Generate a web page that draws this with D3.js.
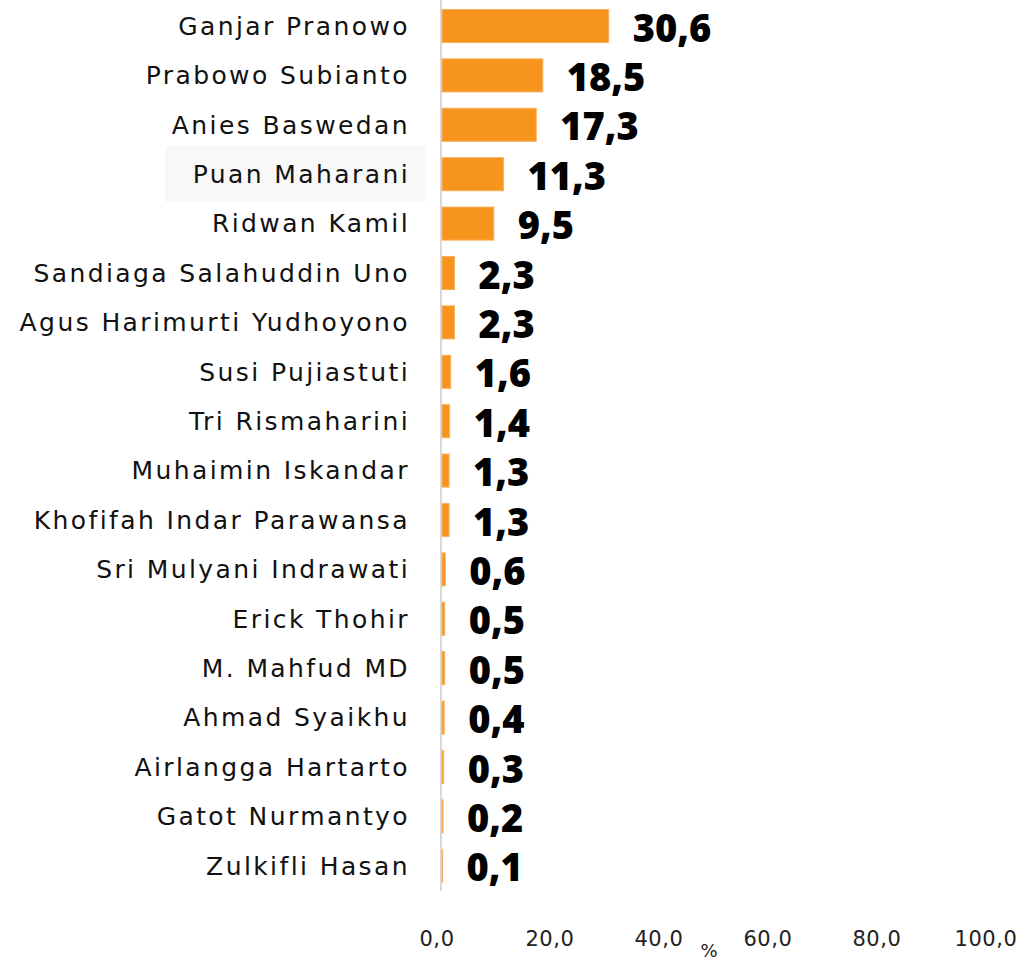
<!DOCTYPE html>
<html>
<head>
<meta charset="utf-8">
<script src="https://cdn.jsdelivr.net/npm/d3@7"></script>
<style>
  body { margin: 0; background: #fff; }
  svg { display: block; }
</style>
</head>
<body>
<div id="container"></div>
<script>
/* DATA */
const names = [
  "Ganjar Pranowo", "Prabowo Subianto", "Anies Baswedan", "Puan Maharani",
  "Ridwan Kamil", "Sandiaga Salahuddin Uno", "Agus Harimurti Yudhoyono",
  "Susi Pujiastuti", "Tri Rismaharini", "Muhaimin Iskandar",
  "Khofifah Indar Parawansa", "Sri Mulyani Indrawati", "Erick Thohir",
  "M. Mahfud MD", "Ahmad Syaikhu", "Airlangga Hartarto", "Gatot Nurmantyo",
  "Zulkifli Hasan"
];
const values = [30.6, 18.5, 17.3, 11.3, 9.5, 2.3, 2.3, 1.6, 1.4, 1.3, 1.3, 0.6, 0.5, 0.5, 0.4, 0.3, 0.2, 0.1];
const xTicks = [0, 20, 40, 60, 80, 100];
const highlighted = "Puan Maharani";

/* CONSTANTS */
const width = 1020, height = 963;
const fmt = v => v.toFixed(1).replace(".", ",");

const svg = d3.select("#container")
  .append("svg")
  .attr("width", width)
  .attr("height", height);

/* SCALES */
const xScale = d3.scaleLinear()
  .domain([0, 100])
  .range([441, 986]);

const yScale = d3.scaleBand()
  .domain(names)
  .range([1.3, 890.5])
  .paddingInner(0.33)
  .paddingOuter(0.165);

// highlight box behind one label
svg.append("rect")
  .attr("x", 165)
  .attr("y", yScale(highlighted) + yScale.bandwidth() / 2 - 28)
  .attr("width", 260)
  .attr("height", 56)
  .attr("fill", "#f8f8f8");

// vertical axis line
svg.append("line")
  .attr("x1", 441).attr("x2", 441)
  .attr("y1", 0).attr("y2", 891)
  .attr("stroke", "#d9d9d9")
  .attr("stroke-width", 2);

// bars
svg.selectAll(".bar")
  .data(names)
  .join("rect")
  .attr("class", "bar")
  .attr("x", xScale(0) + 1)
  .attr("y", d => yScale(d))
  .attr("width", (d, i) => Math.max(0, xScale(values[i]) - xScale(0)))
  .attr("height", yScale.bandwidth())
  .attr("fill", "#F7941D")
  .attr("stroke", "#F9B264")
  .attr("stroke-width", 1);

// category labels (letter-spacing to get close to the wide original face)
svg.selectAll(".name")
  .data(names)
  .join("text")
  .attr("class", "name")
  .attr("x", 410)
  .attr("y", d => yScale(d) + yScale.bandwidth() / 2)
  .attr("dy", "0.35em")
  .attr("text-anchor", "end")
  .style("font-family", "'DejaVu Sans', sans-serif")
  .style("font-size", "25px")
  .style("letter-spacing", "2.4px")
  .attr("fill", "#111")
  .text(d => d);

// value labels
svg.selectAll(".val")
  .data(names)
  .join("text")
  .attr("class", "val")
  .attr("x", (d, i) => xScale(values[i]) + 25)
  .attr("y", d => yScale(d) + yScale.bandwidth() / 2 + 2)
  .attr("dy", "0.36em")
  .style("font-family", "'Open Sans', sans-serif")
  .style("font-size", "38px")
  .style("font-weight", 800)
  .attr("fill", "#000")
  .text((d, i) => fmt(values[i]));

// x axis tick labels
svg.selectAll(".tick-label")
  .data(xTicks)
  .join("text")
  .attr("class", "tick-label")
  .attr("x", d => xScale(d) - (d === 0 ? 4 : 0))
  .attr("y", 946)
  .attr("text-anchor", "middle")
  .style("font-family", "'DejaVu Sans', sans-serif")
  .style("font-size", "21px")
  .style("letter-spacing", "0.6px")
  .attr("fill", "#222")
  .text(d => fmt(d));

svg.append("text")
  .attr("x", 709)
  .attr("y", 957)
  .attr("text-anchor", "middle")
  .style("font-family", "'DejaVu Sans', sans-serif")
  .style("font-size", "18px")
  .attr("fill", "#222")
  .text("%");
</script>
</body>
</html>
